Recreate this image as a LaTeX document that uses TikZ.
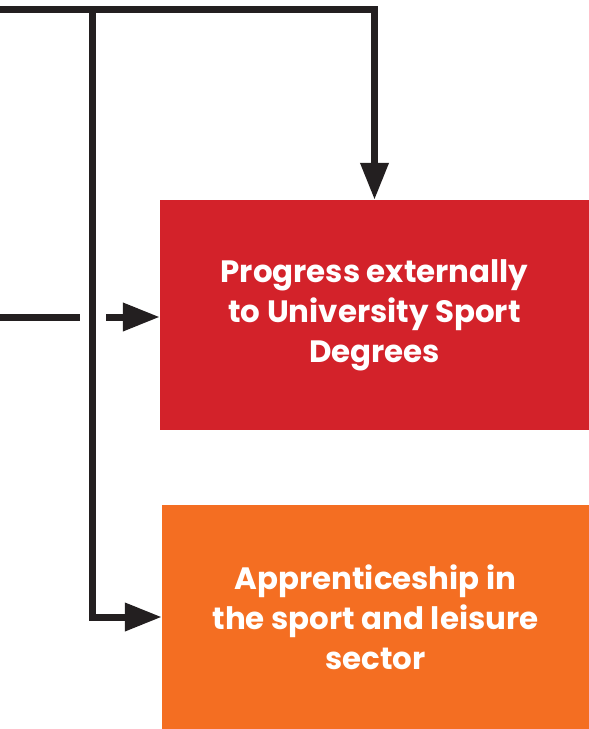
\documentclass[tikz,border=0pt]{standalone}
\usepackage{fontspec}
\setmainfont{Poppins}
\usetikzlibrary{arrows.meta}
\definecolor{boxred}{HTML}{D3222A}
\definecolor{boxorange}{HTML}{F46E22}
\definecolor{lineblack}{HTML}{231F20}
\tikzset{
  conn/.style={draw=lineblack, line width=7bp, miter limit=10},
  arr/.style={conn, -{Triangle[length=37bp,width=27bp]}},
  box/.style={draw=none, inner sep=0pt, align=center, text=white,
    font=\fontsize{31}{40}\selectfont\bfseries},
}
\begin{document}
\begin{tikzpicture}[x=1bp,y=-1bp]
\useasboundingbox (0,0) rectangle (589,729);
\node[box, fill=boxred, minimum width=429bp, minimum height=230bp] (prog) at (374.5,315)
  {Progress externally\\to University Sport\\Degrees};
\node[box, fill=boxorange, minimum width=427bp, minimum height=224bp] (appr) at (375.5,617)
  {Apprenticeship in\\the sport and leisure\\sector};
\coordinate (topin) at (0,10);
\coordinate (split) at (92,10);
\coordinate (midin) at (0,317);
\coordinate (gapl) at (80,317);
\coordinate (gapr) at (106,317);
\draw[conn] (topin) -- (split);
\draw[arr] (split) -| (prog.north);
\draw[arr] (split) |- (appr.west);
\draw[conn] (midin) -- (gapl);
\draw[arr] (gapr) -- (gapr -| prog.west);
\end{tikzpicture}
\end{document}
